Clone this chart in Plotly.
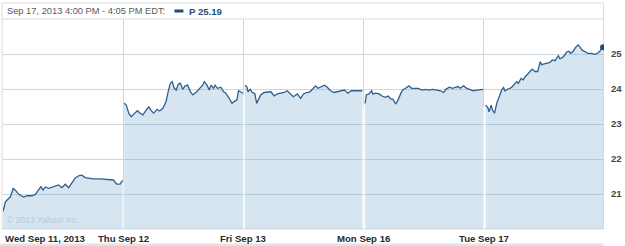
import plotly.graph_objects as go

# ---- data (minutes after 9:30 open, price) ----
day_labels = ["Wed Sep 11, 2013", "Thu Sep 12", "Fri Sep 13", "Mon Sep 16", "Tue Sep 17"]

wed_min = [0, 8, 19, 24, 33, 40, 51, 67, 78, 94, 105, 116, 123, 130, 137, 148, 164, 180, 191, 202, 213, 224, 234, 245, 256, 267, 277, 293, 315, 337, 358, 369, 380, 388]
wed_px = [20.50, 20.78, 20.88, 20.92, 21.16, 21.11, 20.99, 20.91, 20.95, 20.95, 20.99, 21.14, 21.21, 21.11, 21.20, 21.16, 21.21, 21.26, 21.18, 21.28, 21.18, 21.33, 21.45, 21.52, 21.54, 21.47, 21.45, 21.43, 21.43, 21.41, 21.40, 21.28, 21.28, 21.39]

thu_min = [3, 10, 18, 26, 35, 46, 53, 64, 75, 83, 91, 99, 110, 118, 129, 139, 147, 153, 159, 166, 172, 179, 186, 193, 201, 209, 218, 226, 236, 247, 258, 263, 272, 279, 285, 293, 298, 306, 317, 326, 333, 344, 353, 360, 369, 374, 382, 389]
thu_px = [23.59, 23.54, 23.31, 23.21, 23.29, 23.38, 23.32, 23.26, 23.40, 23.49, 23.38, 23.31, 23.42, 23.37, 23.45, 23.64, 23.97, 24.16, 24.21, 24.02, 23.97, 24.14, 24.16, 23.99, 24.09, 24.11, 23.92, 23.83, 23.90, 24.02, 24.11, 24.21, 24.11, 23.97, 24.11, 24.02, 24.11, 24.02, 24.05, 23.92, 23.88, 23.73, 23.59, 23.64, 23.69, 23.95, 23.92, 23.88]

fri_min = [5, 11, 15, 22, 29, 37, 43, 48, 56, 67, 78, 89, 100, 110, 121, 132, 142, 151, 162, 175, 186, 195, 205, 216, 227, 234, 242, 250, 263, 272, 283, 294, 305, 318, 328, 339, 350, 361, 372, 386]
fri_px = [24.11, 24.07, 23.92, 23.99, 23.90, 23.87, 23.59, 23.69, 23.83, 23.90, 23.90, 23.92, 23.80, 23.86, 23.88, 23.90, 23.95, 23.86, 23.78, 23.86, 23.73, 23.86, 23.90, 23.92, 24.02, 24.09, 24.02, 24.05, 24.11, 24.05, 23.95, 23.90, 23.92, 23.95, 23.97, 23.88, 23.95, 23.95, 23.95, 23.95]

mon_min = [5, 9, 17, 26, 30, 39, 50, 60, 71, 80, 88, 95, 104, 112, 120, 127, 136, 147, 156, 166, 177, 190, 201, 211, 224, 238, 249, 260, 267, 278, 289, 298, 306, 314, 324, 335, 346, 356, 367, 378, 388]
mon_px = [23.59, 23.83, 23.86, 23.95, 23.86, 23.88, 23.86, 23.80, 23.76, 23.80, 23.71, 23.71, 23.57, 23.69, 23.86, 23.97, 24.02, 24.09, 24.02, 24.02, 24.02, 23.97, 23.99, 23.97, 23.99, 23.97, 23.95, 23.90, 23.99, 24.05, 24.02, 24.05, 24.07, 24.02, 24.09, 24.02, 23.99, 23.95, 23.97, 23.97, 23.99]

tue_min = [6, 13, 17, 24, 28, 35, 42, 50, 58, 64, 69, 78, 85, 93, 99, 107, 112, 121, 128, 134, 142, 150, 157, 166, 175, 183, 188, 193, 204, 215, 222, 231, 242, 247, 255, 263, 268, 276, 282, 290, 297, 306, 311, 319, 328, 338, 349, 360, 368, 376, 383, 387]
tue_px = [23.54, 23.47, 23.35, 23.54, 23.40, 23.31, 23.59, 23.78, 23.97, 24.04, 23.94, 24.00, 24.02, 24.07, 24.13, 24.21, 24.16, 24.30, 24.26, 24.35, 24.42, 24.50, 24.57, 24.50, 24.50, 24.78, 24.69, 24.71, 24.73, 24.76, 24.83, 24.81, 24.95, 24.86, 24.90, 24.97, 25.05, 25.08, 25.02, 25.08, 25.18, 25.26, 25.21, 25.11, 25.07, 25.02, 25.02, 24.99, 25.02, 25.07, 25.18, 25.19]

y_ticks = [21, 22, 23, 24, 25]
header_text = "Sep 17, 2013 4:00 PM - 4:05 PM EDT:"
legend_text = "P 25.19"
copyright_text = "© 2013 Yahoo! Inc."

SESSION = 390.0
days = [(wed_min, wed_px), (thu_min, thu_px), (fri_min, fri_px), (mon_min, mon_px), (tue_min, tue_px)]

LINE = "#2f5f8f"
FILL = "rgba(120,170,205,0.30)"
GRID = "#cad8e4"
FONT = "Liberation Sans"

W, H = 625, 246
L, R, T, B = 3, 19, 19, 17
pw, ph = W - L - R, H - T - B


def px_x(p):
    return (p - L) / pw


def px_y(p):
    return (H - B - p) / ph


fig = go.Figure()
for i, (mins, prices) in enumerate(days):
    xs = [i + m / SESSION for m in mins]
    fig.add_trace(go.Scatter(x=xs, y=prices, mode="lines", fill="tozeroy",
                             fillcolor=FILL, line=dict(color=LINE, width=1.3),
                             hoverinfo="skip", showlegend=False))

# end-of-series dot
fig.add_trace(go.Scatter(x=[4 + tue_min[-1] / SESSION], y=[tue_px[-1]], mode="markers",
                         marker=dict(color="#1f4e79", size=6), showlegend=False, hoverinfo="skip"))

shapes = []
# white separators inside filled area at day boundaries
for i in range(1, 5):
    top = min(days[i - 1][1][-1], days[i][1][0])
    shapes.append(dict(type="line", xref="x", yref="y", x0=i, x1=i, y0=20, y1=top - 0.05,
                       line=dict(color="rgba(255,255,255,0.85)", width=1), layer="above"))
# outer border and header separator
shapes.append(dict(type="rect", xref="paper", yref="paper", x0=px_x(2), x1=px_x(605.5),
                   y0=0, y1=px_y(3), line=dict(color="#dcdcdc", width=1), layer="below"))
shapes.append(dict(type="line", xref="paper", yref="paper", x0=px_x(2), x1=px_x(605.5),
                   y0=1, y1=1, line=dict(color="#dcdcdc", width=1), layer="below"))
# bottom gray bar
shapes.append(dict(type="rect", xref="paper", yref="paper", x0=px_x(0), x1=px_x(605.5),
                   y0=px_y(243.5), y1=px_y(247), fillcolor="#e2e2e2", line=dict(width=0), layer="below"))
# legend swatch
shapes.append(dict(type="rect", xref="paper", yref="paper", x0=px_x(175), x1=px_x(184),
                   y0=px_y(12.5), y1=px_y(9.5), fillcolor="#1f4e79", line=dict(width=0)))

annotations = [
    dict(text=header_text, xref="paper", yref="paper", x=px_x(5), y=px_y(11.5),
         xanchor="left", yanchor="middle", showarrow=False,
         font=dict(family=FONT, size=9.3, color="#5a5a5a")),
    dict(text=legend_text, xref="paper", yref="paper", x=px_x(188), y=px_y(11.5),
         xanchor="left", yanchor="middle", showarrow=False,
         font=dict(family=FONT, size=9.6, color="#1f4e79", weight="bold")),
    dict(text=copyright_text, xref="paper", yref="paper", x=px_x(5), y=px_y(219.5),
         xanchor="left", yanchor="middle", showarrow=False,
         font=dict(family=FONT, size=8.6, color="#b9c9d6")),
    dict(text=day_labels[0], xref="paper", yref="paper", x=px_x(3.5), y=px_y(238),
         xanchor="left", yanchor="middle", showarrow=False,
         font=dict(family=FONT, size=9.6, color="#2a2a2a", weight="bold")),
]
for i in range(1, 5):
    annotations.append(dict(text=day_labels[i], xref="x", yref="paper", x=i, y=px_y(238),
                            xanchor="center", yanchor="middle", showarrow=False,
                            font=dict(family=FONT, size=9.6, color="#2a2a2a", weight="bold")))

fig.update_layout(
    width=W, height=H, margin=dict(l=L, r=R, t=T, b=B),
    paper_bgcolor="white", plot_bgcolor="white",
    shapes=shapes, annotations=annotations, showlegend=False,
    xaxis=dict(range=[0, 5], tickvals=[1, 2, 3, 4], showticklabels=False,
               showgrid=True, gridcolor=GRID, gridwidth=1, zeroline=False,
               showline=False, fixedrange=True),
    yaxis=dict(range=[20, 26], side="right", tickvals=y_ticks,
               ticktext=[str(v) for v in y_ticks],
               showgrid=True, gridcolor=GRID, gridwidth=1, zeroline=False,
               showline=False, ticks="outside", ticklen=4, tickcolor="rgba(0,0,0,0)",
               tickfont=dict(family=FONT, size=9.6, color="#444444", weight="bold"),
               fixedrange=True),
)

fig.write_html("out.html", config={"displayModeBar": False})
